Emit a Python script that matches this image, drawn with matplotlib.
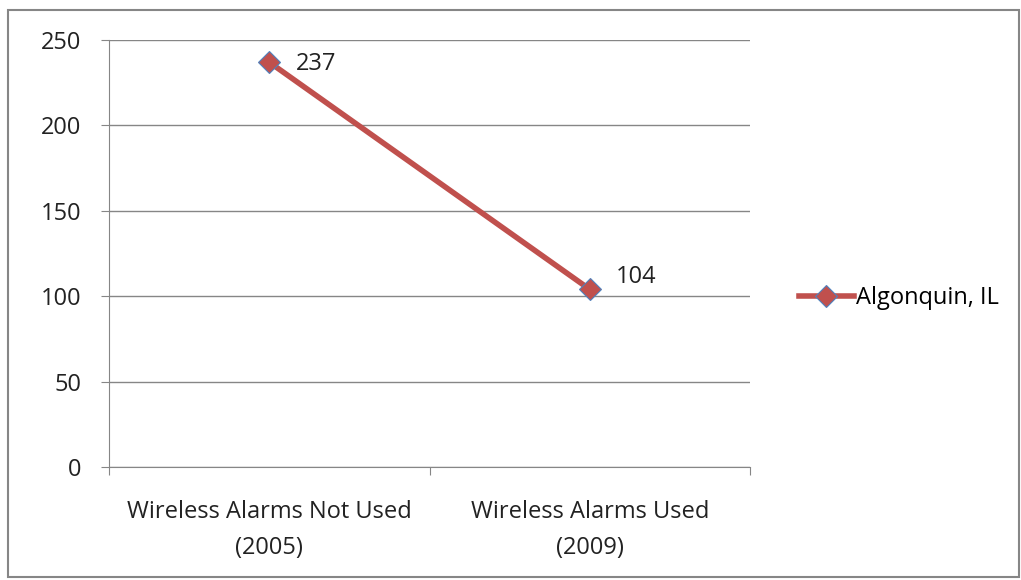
import matplotlib.pyplot as plt
from matplotlib.patches import Rectangle

categories = ['Wireless Alarms Not Used\n(2005)', 'Wireless Alarms Used\n(2009)']
values = [237, 104]
series_name = 'Algonquin, IL'

plt.rcParams['font.family'] = ['Open Sans', 'DejaVu Sans']
fs = 17

fig = plt.figure(figsize=(10.21, 5.8), dpi=100)
fig.patches.append(Rectangle((8 / 1021, 3 / 580), 1011 / 1021, 567 / 580,
                             transform=fig.transFigure, fill=False,
                             edgecolor='#868686', linewidth=1.5))

ax = fig.add_axes([109 / 1021, 1 - 467 / 580, 641 / 1021, 427 / 580])
x = [0.5, 1.5]
line, = ax.plot(x, values, color='#C0504D', linewidth=4, marker='D',
                markersize=11, markerfacecolor='#C0504D',
                markeredgecolor='#4F81BD', markeredgewidth=0.8,
                label=series_name, zorder=3)
# data labels sit to the right of each point
for xi, v, dy in zip(x, values, [-1, 9]):
    ax.annotate(str(v), (xi, v), xytext=(19, dy), textcoords='offset points',
                va='center', ha='left', fontsize=fs, color='#222222')

ax.set_xlim(0, 2)
ax.set_ylim(0, 250)
ax.set_yticks(range(0, 251, 50))
ax.set_xticks([0, 1, 2], minor=False)
ax.set_xticklabels([])
ax.set_xticks(x, minor=True)
ax.set_xticklabels(categories, minor=True, fontsize=fs, color='#222222',
                   linespacing=1.65)
ax.tick_params(axis='x', which='minor', length=0, pad=24)
ax.tick_params(axis='x', which='major', length=6, color='#868686', direction='out')
ax.tick_params(axis='y', length=6, color='#868686', labelsize=fs,
               labelcolor='#222222', pad=14)
ax.grid(axis='y', color='#868686', linewidth=1)
ax.set_axisbelow(True)
for side in ['top', 'right']:
    ax.spines[side].set_visible(False)
for side in ['left', 'bottom']:
    ax.spines[side].set_color('#868686')

fig.legend(handles=[line], labels=[series_name], loc='center left',
           bbox_to_anchor=(778 / 1021, 1 - 298 / 580), frameon=False,
           fontsize=fs, handlelength=2.3, handletextpad=0.1)

fig.savefig('out.png', dpi=100)
